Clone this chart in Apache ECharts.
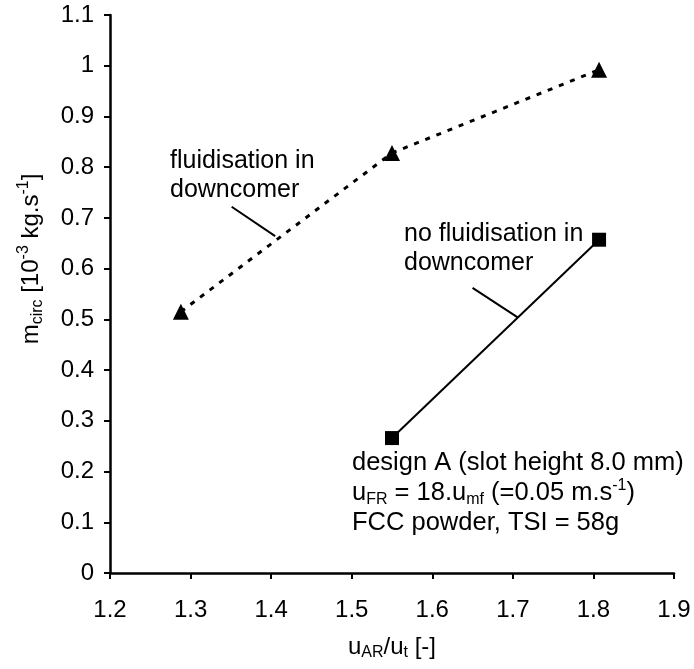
<!DOCTYPE html>
<html>
<head>
<meta charset="utf-8">
<script src="https://cdn.jsdelivr.net/npm/echarts@6/dist/echarts.min.js"></script>
<style>
  html, body { margin: 0; padding: 0; background: #fff; }
  #chart { width: 694px; height: 669px; }
</style>
</head>
<body>
<div id="chart"></div>
<script>
// values
const fluidX = [1.288, 1.55, 1.807];
const fluidY = [0.515, 0.828, 0.992];
const noFluidX = [1.55, 1.807];
const noFluidY = [0.266, 0.657];

const xMin = 1.2, xMax = 1.9, xStep = 0.1;
const yMin = 0, yMax = 1.1, yStep = 0.1;

const FONT = '"Liberation Sans", Arial, Helvetica, sans-serif';

const toPairs = (xs, ys) => xs.map((x, i) => [x, ys[i]]);

const chart = echarts.init(document.getElementById('chart'));

const axisCommon = {
  type: 'value',
  splitLine: { show: false },
  axisLine: { show: true, onZero: false, lineStyle: { color: '#000', width: 2.5 } },
  axisTick: { show: true, inside: false, length: 6, lineStyle: { color: '#000', width: 2 } },
  axisLabel: { color: '#000', fontSize: 24, fontFamily: FONT },
  nameLocation: 'middle',
  nameTextStyle: { color: '#000', fontSize: 24, fontFamily: FONT }
};

const option = {
  animation: false,
  backgroundColor: '#fff',
  grid: { left: 110, right: 20, top: 15, bottom: 96, containLabel: false },
  xAxis: {
    ...axisCommon,
    min: xMin, max: xMax, interval: xStep,
    axisLabel: { ...axisCommon.axisLabel, margin: 25, formatter: v => v.toFixed(1) },
    name: '{t|u}{sub|AR}{t|/u}{sub|t}{t| [-]}',
    nameGap: 60,
    nameTextStyle: {
      rich: {
        t: { fontSize: 24, fontFamily: FONT, color: '#000', lineHeight: 28, verticalAlign: 'middle' },
        sub: { fontSize: 16, fontFamily: FONT, color: '#000', lineHeight: 28, verticalAlign: 'bottom' }
      }
    }
  },
  yAxis: {
    ...axisCommon,
    min: yMin, max: yMax, interval: yStep,
    axisLabel: { ...axisCommon.axisLabel, margin: 16, formatter: v => String(Number(v.toFixed(1))) },
    name: '{t|m}{sub|circ}{t| [10}{sup|-3}{t| kg.s}{sup|-1}{t|]}',
    nameGap: 64,
    nameTextStyle: {
      padding: [0, 0, 0, 70],
      rich: {
        t: { fontSize: 24, fontFamily: FONT, color: '#000', lineHeight: 30, verticalAlign: 'middle' },
        sub: { fontSize: 16, fontFamily: FONT, color: '#000', lineHeight: 30, verticalAlign: 'bottom' },
        sup: { fontSize: 16, fontFamily: FONT, color: '#000', lineHeight: 30, verticalAlign: 'top' }
      }
    }
  },
  series: [
    {
      name: 'fluidisation in downcomer',
      type: 'line',
      data: toPairs(fluidX, fluidY),
      symbol: 'triangle',
      symbolSize: 16,
      itemStyle: { color: '#000' },
      lineStyle: { color: '#000', width: 3, type: [5, 7] },
      markLine: {
        silent: true,
        symbol: 'none',
        label: { show: false },
        lineStyle: { color: '#000', width: 2, type: 'solid' },
        data: [[{ coord: [1.351, 0.722] }, { coord: [1.405, 0.664] }]]
      }
    },
    {
      name: 'no fluidisation in downcomer',
      type: 'line',
      data: toPairs(noFluidX, noFluidY),
      symbol: 'rect',
      symbolSize: 14,
      itemStyle: { color: '#000' },
      lineStyle: { color: '#000', width: 2, type: 'solid' },
      markLine: {
        silent: true,
        symbol: 'none',
        label: { show: false },
        lineStyle: { color: '#000', width: 2, type: 'solid' },
        data: [[{ coord: [1.650, 0.562] }, { coord: [1.706, 0.504] }]]
      }
    }
  ],
  graphic: [
    {
      type: 'text', left: 170, top: 147,
      style: { text: 'fluidisation in\ndowncomer', font: '25px ' + FONT, fill: '#000', lineHeight: 29 }
    },
    {
      type: 'text', left: 404, top: 220,
      style: { text: 'no fluidisation in\ndowncomer', font: '25px ' + FONT, fill: '#000', lineHeight: 29 }
    },
    {
      type: 'text', left: 352, top: 450,
      style: {
        text: [
          '{t|design A (slot height 8.0 mm)}',
          '{t|u}{sub|FR}{t| = 18.u}{sub|mf}{t| (=0.05 m.s}{sup|-1}{t|)}',
          '{t|FCC powder, TSI = 58g}'
        ].join('\n'),
        rich: {
          t: { fontSize: 25.5, fontFamily: FONT, fill: '#000', lineHeight: 30, verticalAlign: 'middle' },
          sub: { fontSize: 16, fontFamily: FONT, fill: '#000', lineHeight: 30, verticalAlign: 'bottom' },
          sup: { fontSize: 16, fontFamily: FONT, fill: '#000', lineHeight: 30, verticalAlign: 'top' }
        }
      }
    }
  ]
};

chart.setOption(option);
</script>
</body>
</html>
